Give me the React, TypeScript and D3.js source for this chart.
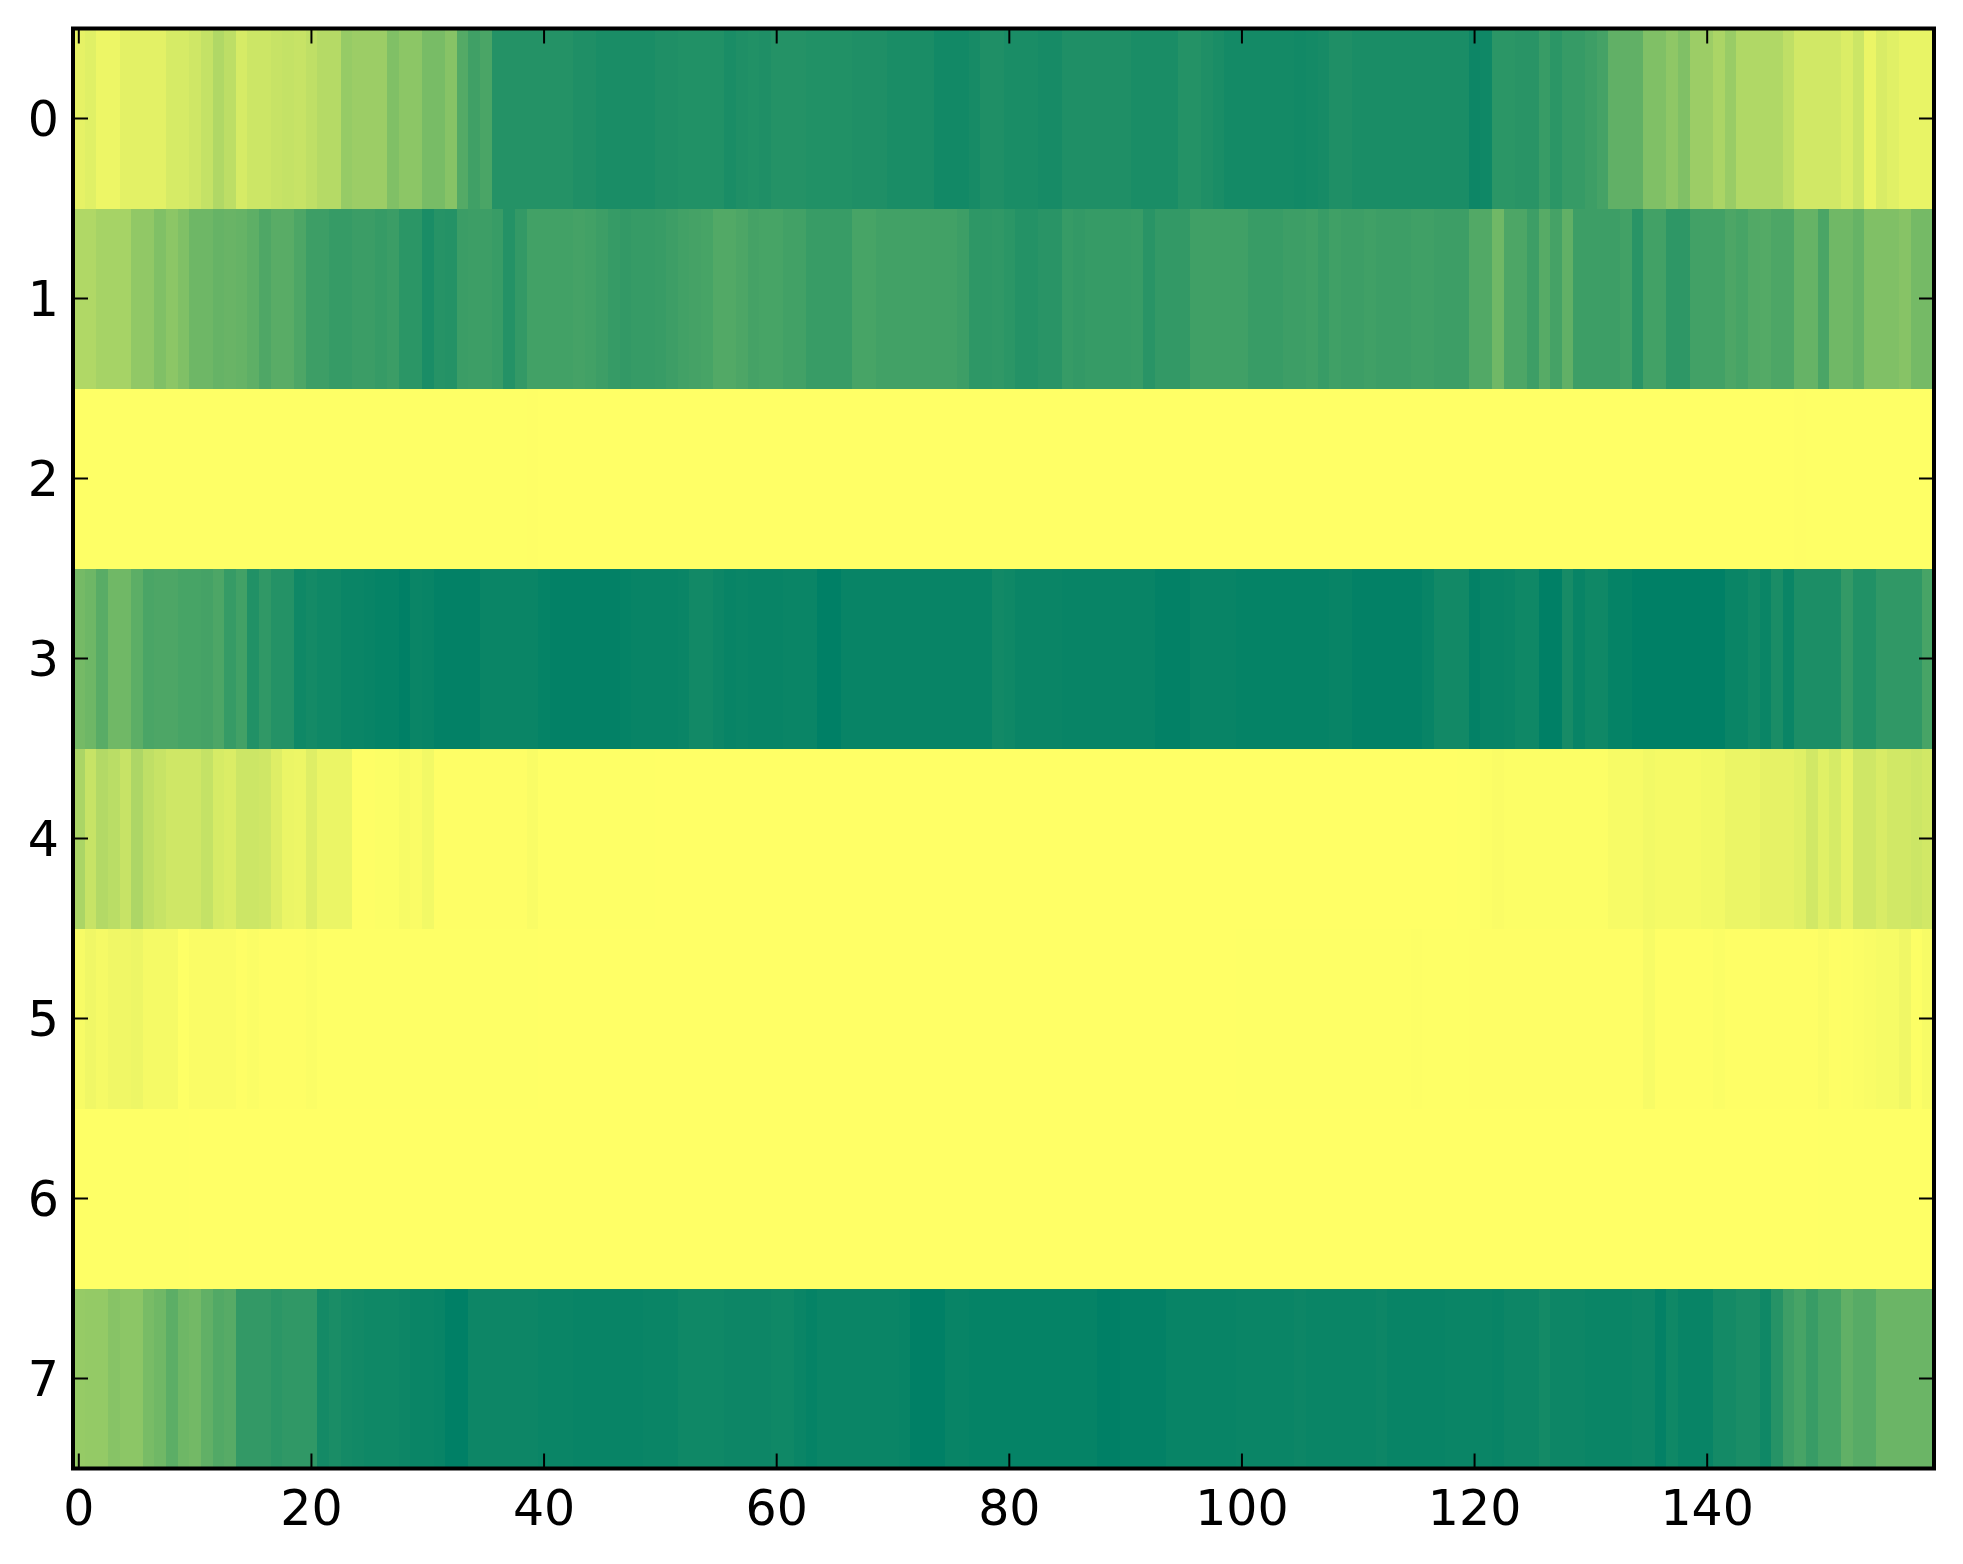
import React from "react";
import * as d3 from "d3";

const rowLabels = [0, 1, 2, 3, 4, 5, 6, 7];
const xTicks = [0, 20, 40, 60, 80, 100, 120, 140];

const row0 = [
  10,12,7,7,11,11,11,11,16,16,
  19,23,31,26,16,20,20,22,23,22,
  25,29,29,41,39,39,39,50,45,45,
  53,53,47,67,75,71,86,86,86,86,
  86,86,86,88,88,90,90,90,90,90,
  88,88,87,87,87,87,90,88,87,88,
  86,86,86,87,87,87,87,88,88,88,
  90,90,90,90,93,93,93,91,88,88,
  90,90,90,91,91,88,88,88,88,88,
  88,90,90,90,90,86,86,88,90,92,
  92,92,92,92,92,93,92,91,88,88,
  90,90,90,90,90,90,90,90,90,90,
  95,94,83,83,84,84,78,83,79,79,
  76,73,62,62,62,50,50,44,50,39,
  39,33,40,31,31,31,31,25,18,18,
  18,18,14,20,8,15,12,9,9,9,
];
const row1 = [
  31,31,35,35,35,43,43,50,45,50,
  57,57,60,59,60,63,69,65,65,70,
  76,76,79,79,77,77,79,77,83,83,
  90,85,86,77,76,76,78,86,80,74,
  74,74,74,73,74,76,79,80,79,79,
  78,76,74,73,72,68,68,70,73,72,
  72,74,74,78,78,78,78,72,72,74,
  74,74,74,74,74,74,76,82,82,81,
  83,86,86,84,84,79,80,79,79,79,
  79,78,84,80,80,80,75,75,75,75,
  75,78,78,78,76,76,75,78,75,76,
  76,75,76,76,76,75,75,76,76,76,
  68,68,56,70,70,76,66,73,62,76,
  76,76,76,74,84,74,74,82,82,74,
  74,74,70,72,68,67,70,70,60,60,
  71,56,56,60,50,50,50,47,54,54,
];
const row2 = [
  0.3,0.2,0.3,0.2,0.2,0.3,0.2,0.2,0.2,0.3,
  0.2,0.3,0.2,0.2,0.2,0.3,0.2,0.2,0.3,0.2,
  0.2,0.2,0.3,0.2,0.2,0.2,0.2,0.2,0.2,0.2,
  0.2,0.2,0.2,0.2,0.2,0.2,0.2,0.2,0.2,0.5,
  0.1,0.1,0.1,0.1,0.1,0.1,0.1,0.1,0.1,0.1,
  0.1,0.1,0.1,0.1,0.1,0.1,0.1,0.1,0.1,0.1,
  0.1,0.1,0.1,0.1,0.1,0.1,0.1,0.1,0.1,0.1,
  0.1,0.1,0.1,0.1,0.1,0.1,0.1,0.1,0.1,0.1,
  0.1,0.1,0.1,0.1,0.1,0.1,0.1,0.1,0.1,0.1,
  0.1,0.1,0.1,0.1,0.1,0.1,0.1,0.1,0.1,0.1,
  0.1,0.1,0.1,0.1,0.1,0.1,0.1,0.1,0.1,0.1,
  0.1,0.1,0.1,0.1,0.1,0.1,0.1,0.1,0.1,0.1,
  0.1,0.1,0.1,0.1,0.1,0.1,0.1,0.1,0.1,0.1,
  0.1,0.1,0.1,0.1,0.1,0.1,0.1,0.1,0.1,0.1,
  0.1,0.1,0.1,0.1,0.1,0.1,0.1,0.1,0.5,0.2,
  0.2,0.2,0.2,0.2,0.2,0.3,0.2,0.2,0.3,0.3,
];
const row3 = [
  54,57,65,56,56,64,71,70,70,72,
  72,73,70,79,74,87,81,86,86,94,
  92,94,94,96,96,97,98,98,100,96,
  97,99,99,99,99,96,96,96,96,96,
  98,99,99,99,99,99,99,98,97,97,
  97,97,96,93,93,95,97,96,97,97,
  97,96,96,96,100,100,97,97,97,97,
  97,97,97,97,97,97,97,97,97,93,
  94,96,96,96,96,97,97,97,97,97,
  97,97,97,99,99,99,97,97,97,97,
  98,98,98,98,98,98,98,98,97,97,
  99,99,99,99,99,99,97,93,93,93,
  99,97,97,96,94,94,100,100,91,97,
  94,94,98,98,100,100,100,100,100,100,
  100,100,96,96,93,96,90,96,89,89,
  89,89,80,87,87,81,81,81,81,72,
];
const row4 = [
  33,22,30,27,22,32,25,22,19,19,
  19,23,16,14,20,20,19,13,8,7,
  13,8,8,8,0.5,0.5,1,1,3,2,
  5,0.5,0.5,0.5,0.5,0.5,0.5,0.5,0.5,2.5,
  0.3,0.3,0.3,0.3,0.3,0.3,0.3,0.3,0.3,0.3,
  0.1,0.1,0.1,0.1,0.1,0.1,0.1,0.1,0.1,0.1,
  0.1,0.1,0.1,0.1,0.1,0.1,0.1,0.1,0.1,0.1,
  0.1,0.1,0.1,0.1,0.1,0.1,0.1,0.1,0.1,0.1,
  0.1,0.1,0.1,0.1,0.1,0.1,0.1,0.1,0.1,0.1,
  0.1,0.1,0.1,0.1,0.1,0.1,0.1,0.1,0.1,0.1,
  0.1,0.1,0.1,0.1,0.1,0.1,0.1,0.1,0.1,0.1,
  0.1,0.1,0.1,0.1,0.1,0.1,0.1,0.1,0.1,0.2,
  0.3,1,2,1,1,1,1,1,1,1,
  1,1,3,3,3,5,4,4,4,4,
  5,5,8,8,8,10,10,10,12,18,
  12,16,10,19,19,15,18,18,20,18,
];
const row5 = [
  3,6,4,6,6,7,4,4,4,0.3,
  2,2,2,2,0.5,1.5,0.5,0.5,0.5,0.5,
  1.5,0.3,0.3,0.3,0.3,0.3,0.3,0.3,0.3,0.3,
  0.2,0.2,0.2,0.2,0.2,0.2,0.2,0.2,0.2,0.2,
  0.1,0.1,0.1,0.1,0.1,0.1,0.1,0.1,0.1,0.1,
  0.1,0.1,0.1,0.1,0.1,0.1,0.1,0.1,0.1,0.1,
  0.1,0.1,0.1,0.1,0.1,0.1,0.1,0.1,0.1,0.1,
  0.1,0.1,0.1,0.1,0.1,0.1,0.1,0.1,0.1,0.1,
  0.1,0.1,0.1,0.1,0.1,0.1,0.1,0.1,0.1,0.1,
  0.1,0.1,0.1,0.1,0.1,0.1,0.1,0.1,0.1,0.1,
  0.2,0.2,0.2,0.2,0.2,0.2,0.3,0.3,0.3,0.3,
  0.3,0.3,0.3,0.3,0.3,0.8,0.3,0.3,0.3,0.3,
  0.4,0.4,0.4,0.4,0.4,0.4,0.4,0.4,0.4,0.4,
  0.4,0.4,0.4,0.4,0.4,3,0.4,0.4,0.4,0.4,
  0.4,1.5,0.4,0.4,0.4,0.5,0.5,0.5,0.5,0.5,
  2,0.5,0.8,1.5,2.5,3.5,3.5,6,1,3,
];
const row6 = [
  0.2,0.2,0.2,0.2,0.2,0.2,0.2,0.2,0.2,0.2,
  0.1,0.1,0.1,0.1,0.1,0.1,0.1,0.1,0.1,0.1,
  0.1,0.1,0.1,0.1,0.1,0.1,0.1,0.1,0.1,0.1,
  0.1,0.1,0.1,0.1,0.1,0.1,0.1,0.1,0.1,0.1,
  0,0,0,0,0,0,0,0,0,0,
  0,0,0,0,0,0,0,0,0,0,
  0,0,0,0,0,0,0,0,0,0,
  0,0,0,0,0,0,0,0,0,0,
  0,0,0,0,0,0,0,0,0,0,
  0,0,0,0,0,0,0,0,0,0,
  0,0,0,0,0,0,0,0,0,0,
  0,0,0,0,0,0,0,0,0,0,
  0.1,0.1,0.1,0.1,0.1,0.1,0.1,0.1,0.1,0.1,
  0.1,0.1,0.1,0.1,0.1,0.1,0.1,0.1,0.1,0.1,
  0.1,0.1,0.1,0.1,0.1,0.1,0.1,0.1,0.1,0.1,
  0.2,0.2,0.2,0.2,0.2,0.2,0.2,0.2,0.2,0.2,
];
const row7 = [
  41,42,42,47,45,45,53,56,64,57,
  55,62,68,66,80,80,80,83,81,81,
  81,92,90,92,93,94,94,94,95,96,
  96,97,100,100,95,95,95,95,95,95,
  96,96,96,97,97,97,97,97,97,96,
  96,96,94,94,94,94,95,95,95,95,
  94,94,96,98,96,96,96,96,96,96,
  96,97,100,100,100,97,97,98,98,98,
  98,98,98,98,98,98,98,98,100,100,
  99,99,99,99,97,97,97,97,97,97,
  96,96,96,96,96,95,96,96,96,96,
  96,96,95,97,97,97,97,97,96,96,
  96,96,97,95,95,95,92,95,95,95,
  96,96,96,96,95,95,99,94,97,97,
  97,92,92,90,90,94,85,76,72,78,
  72,72,62,66,66,58,58,58,58,58,
];
const rows = [row0, row1, row2, row3, row4, row5, row6, row7];

const L = 73, R = 1934, T = 28.5, B = 1468.5;
const x = d3.scaleLinear().domain([-0.5, 159.5]).range([L, R]);
const y = d3.scaleLinear().domain([-0.5, 7.5]).range([T, B]);
const color = d3.scaleLinear<string>().domain([0, 100]).range(["#ffff66", "#008066"]);
const FONT = "'DejaVu Sans', sans-serif";
const TICK = 15;

export default function App() {
  return (
    <svg width={1963} height={1564} style={{ position: "absolute", left: 0, top: 0, background: "#fff" }}>
      <g shapeRendering="crispEdges">
        {rows.map((row, r) =>
          row.map((v, c) => (
            <rect
              key={`${r}-${c}`}
              x={x(c - 0.5)}
              y={y(r - 0.5)}
              width={x(c + 0.5) - x(c - 0.5) + 0.5}
              height={y(r + 0.5) - y(r - 0.5) + 0.5}
              fill={color(v)}
            />
          ))
        )}
      </g>
      {xTicks.map((t) => (
        <g key={t}>
          <line x1={x(t)} x2={x(t)} y1={T} y2={T + TICK} stroke="#000" strokeWidth={2} />
          <line x1={x(t)} x2={x(t)} y1={B} y2={B - TICK} stroke="#000" strokeWidth={2} />
          <text x={x(t)} y={1525} textAnchor="middle" fontFamily={FONT} fontSize={49} fill="#000">{t}</text>
        </g>
      ))}
      {rowLabels.map((t) => (
        <g key={t}>
          <line x1={L} x2={L + TICK} y1={y(t)} y2={y(t)} stroke="#000" strokeWidth={2} />
          <line x1={R} x2={R - TICK} y1={y(t)} y2={y(t)} stroke="#000" strokeWidth={2} />
          <text x={59} y={y(t) + 17} textAnchor="end" fontFamily={FONT} fontSize={49} fill="#000">{t}</text>
        </g>
      ))}
      <rect x={L} y={T} width={R - L} height={B - T} fill="none" stroke="#000" strokeWidth={4} />
    </svg>
  );
}
